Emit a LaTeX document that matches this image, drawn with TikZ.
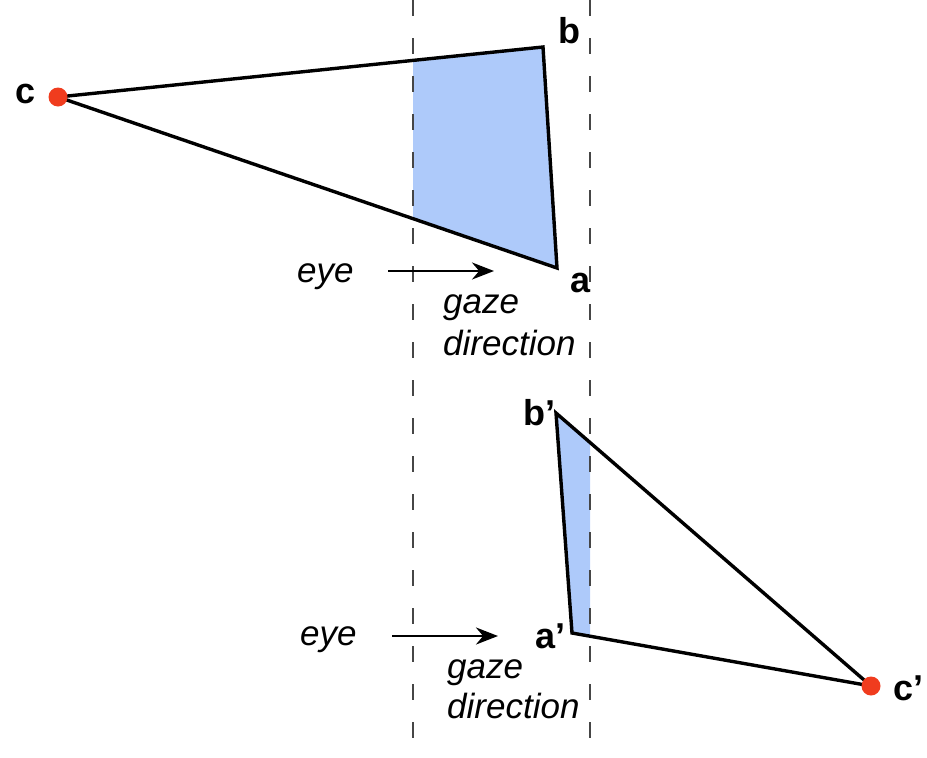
\documentclass[tikz,border=0pt]{standalone}
\usepackage{fontspec}
\setmainfont{Liberation Sans}
\usetikzlibrary{arrows.meta}
\definecolor{fillblue}{RGB}{174,202,250}
\definecolor{dotred}{RGB}{240,60,30}
\definecolor{dashgray}{RGB}{70,70,70}
\begin{document}
\begin{tikzpicture}[x=1pt,y=-1pt,
  edge/.style={line width=3.4pt, line join=miter},
  guide/.style={draw=dashgray, line width=2.2pt, dash pattern=on 16pt off 22pt},
  ptlabel/.style={font=\fontsize{36}{40}\selectfont\bfseries, inner sep=0pt, anchor=base west},
  itlabel/.style={font=\fontsize{35}{40}\selectfont\itshape, inner sep=0pt, anchor=base west},
  gazearrow/.style={line width=2.8pt, -{Stealth[length=22pt,width=17pt]}},
  dot/.style={circle, fill=dotred, inner sep=0pt, minimum size=19pt}]
\useasboundingbox (0,0) rectangle (927,758);
% top triangle
\coordinate (c) at (58,97);
\coordinate (b) at (543,47);
\coordinate (a) at (557,268);
\coordinate (cbx) at (413,60.4);
\coordinate (cax) at (413,218.6);
\fill[fillblue] (cbx) -- (b) -- (a) -- (cax) -- cycle;
\draw[edge] (c) -- (b) -- (a) -- cycle;
\node[dot] (cdot) at (c) {};
\node[ptlabel] (lc) at (15,103) {c};
\node[ptlabel] (lb) at (558,43) {b};
\node[ptlabel] (la) at (570,292) {a};
% bottom triangle
\coordinate (b2) at (556,413);
\coordinate (a2) at (572,633);
\coordinate (c2) at (871,686);
\coordinate (bcx) at (590,442.5);
\coordinate (acx) at (590,636.2);
\fill[fillblue] (b2) -- (bcx) -- (acx) -- (a2) -- cycle;
\draw[edge] (b2) -- (c2) -- (a2) -- cycle;
\node[dot] (c2dot) at (c2) {};
\node[ptlabel] (lb2) at (523,425) {b’};
\node[ptlabel] (la2) at (535,648) {a’};
\node[ptlabel] (lc2) at (893,700) {c’};
% dashed guides
\coordinate (g1t) at (413,0);
\coordinate (g1b) at (413,758);
\coordinate (g2t) at (590,0);
\coordinate (g2b) at (590,758);
\draw[guide] (g1t) -- (g1b);
\draw[guide] (g2t) -- (g2b);
% eye arrows
\node[itlabel] (eye1) at (297,282) {eye};
\coordinate (ar1s) at (388,271);
\coordinate (ar1e) at (494,271);
\draw[gazearrow] (ar1s) -- (ar1e);
\node[itlabel] (gz1) at (443,313) {gaze};
\node[itlabel] (dr1) at (443,355) {direction};
\node[itlabel] (eye2) at (300,645) {eye};
\coordinate (ar2s) at (392,636);
\coordinate (ar2e) at (498,636);
\draw[gazearrow] (ar2s) -- (ar2e);
\node[itlabel] (gz2) at (447,678) {gaze};
\node[itlabel] (dr2) at (447,718) {direction};
\end{tikzpicture}
\end{document}
